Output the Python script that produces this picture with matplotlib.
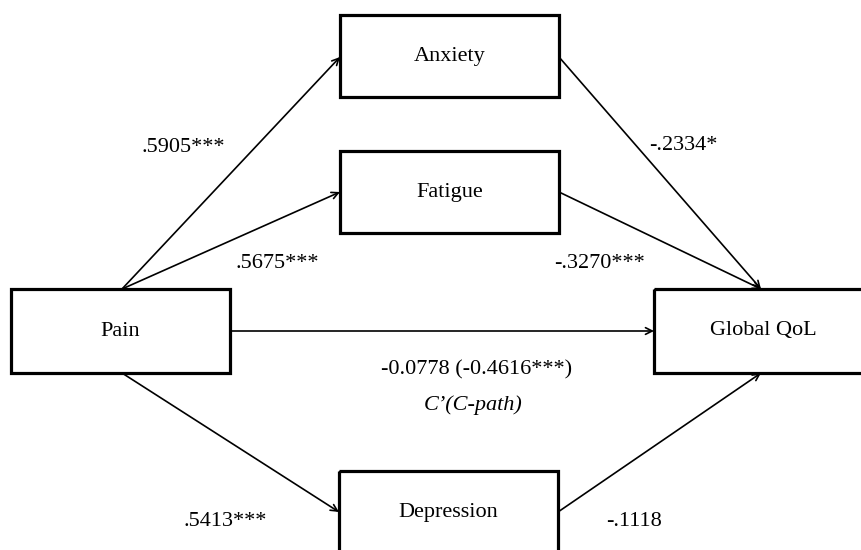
import matplotlib.pyplot as plt
from matplotlib.patches import Rectangle

# node names and path coefficients
nodes = ["Pain", "Anxiety", "Fatigue", "Depression", "Global QoL"]
a_paths = [".5905***", ".5675***", ".5413***"]
b_paths = ["-.2334*", "-.3270***", "-.1118"]
c_path = "-0.0778 (-0.4616***)"
c_note = "C\u2019(C-path)"

plt.rcParams['font.family'] = ['Liberation Serif', 'DejaVu Serif']

fig = plt.figure(figsize=(8.62, 5.5), dpi=100)
ax = fig.add_axes([0, 0, 1, 1])
ax.set_xlim(0, 862)
ax.set_ylim(550, 0)
ax.axis('off')

# box layout: x0, y0, x1, y1 in pixel space
boxes = {
    "Pain": (11, 289, 230, 373),
    "Anxiety": (340, 15, 559, 97),
    "Fatigue": (340, 151, 559, 233),
    "Depression": (339, 471, 558, 560),
    "Global QoL": (654, 289, 872, 373),
}

for name in nodes:
    x0, y0, x1, y1 = boxes[name]
    ax.add_patch(Rectangle((x0, y0), x1 - x0, y1 - y0, fill=False,
                           lw=2.3, ec='black', clip_on=True))
    ty = (y0 + y1) / 2 if name != "Depression" else 513
    ax.text((x0 + x1) / 2, ty, name, ha='center', va='center', fontsize=16)


def arrow(p, q):
    ax.annotate("", xy=q, xytext=p,
                arrowprops=dict(arrowstyle="->", lw=1.2, color='black',
                                shrinkA=0, shrinkB=0,
                                mutation_scale=12))


# a paths
arrow((122, 289), (340, 57))
arrow((122, 289), (340, 192))
arrow((122, 373), (339, 512))
# b paths
arrow((559, 57), (761, 289))
arrow((559, 192), (761, 289))
arrow((558, 512), (761, 373))
# c path
arrow((230, 331), (654, 331))

a_pos = [(183, 147), (277, 263), (225, 521)]
b_pos = [(683, 146), (600, 263), (634, 521)]
for lab, (x, y) in zip(a_paths, a_pos):
    ax.text(x, y, lab, ha='center', va='center', fontsize=16)
for lab, (x, y) in zip(b_paths, b_pos):
    ax.text(x, y, lab, ha='center', va='center', fontsize=16)

ax.text(477, 370, c_path, ha='center', va='center', fontsize=16)
ax.text(473, 405, c_note, ha='center', va='center', fontsize=16, style='italic')

fig.savefig("out.png", dpi=100)
